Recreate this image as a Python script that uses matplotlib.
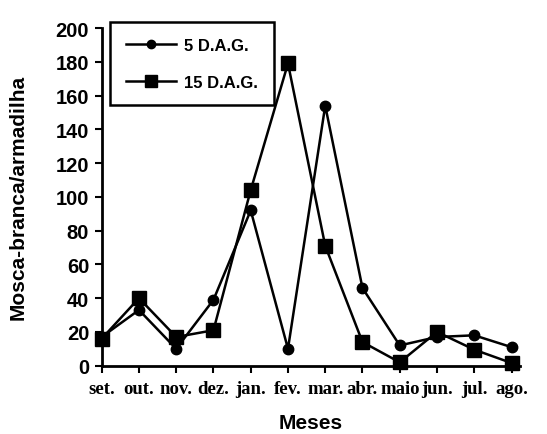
import matplotlib
matplotlib.use("Agg")
import matplotlib.pyplot as plt

meses = ["set.", "out.", "nov.", "dez.", "jan.", "fev.", "mar.", "abr.",
         "maio", "jun.", "jul.", "ago."]
dag5 = [17, 33, 10, 39, 92, 10, 154, 46, 12, 17, 18, 11]
dag15 = [16, 40, 17, 21, 104, 179, 71, 14, 2, 20, 9.5, 1.6]

fig = plt.figure(figsize=(5.47, 4.35), dpi=100)
ax = fig.add_axes([101.7 / 547, 68.3 / 435, 418 / 547, 337.7 / 435])

x = list(range(len(meses)))
ax.plot(x, dag5, "-o", color="black", lw=1.8, markersize=7.5,
        clip_on=False, zorder=3, label="5 D.A.G.")
ax.plot(x, dag15, "-s", color="black", lw=1.8, markersize=10.5,
        clip_on=False, zorder=3, label="15 D.A.G.")

ax.set_xlim(0, 11.22)
ax.set_ylim(0, 200)
ax.set_yticks(range(0, 201, 20))
ax.set_xticks(x)
ax.set_xticklabels(meses, family="Liberation Serif", fontweight="bold", fontsize=13.5)
for t in ax.get_yticklabels():
    t.set_family("Liberation Sans")
    t.set_fontweight("bold")
    t.set_fontsize(14.5)

for s in ["top", "right"]:
    ax.spines[s].set_visible(False)
for s in ["left", "bottom"]:
    ax.spines[s].set_linewidth(2)
ax.tick_params(direction="out", width=1.5, length=5)
ax.tick_params(axis="x", pad=5)
ax.tick_params(axis="y", pad=4)

ax.set_ylabel("Mosca-branca/armadilha", family="Liberation Sans", fontweight="bold",
              fontsize=15, labelpad=20)
ax.set_xlabel("Meses", family="Liberation Sans", fontweight="bold", fontsize=15, labelpad=12)

leg = ax.legend(loc="upper left", bbox_to_anchor=(110 / 547, 1 - 23 / 435),
                bbox_transform=fig.transFigure, borderaxespad=0, fancybox=False,
                edgecolor="black", framealpha=1, handlelength=3.0, borderpad=0.95,
                handletextpad=0.5, labelspacing=1.3,
                prop={"family": "Liberation Sans", "weight": "bold", "size": 12})
leg.get_frame().set_linewidth(1.8)
leg.legend_handles[0].set_markersize(6)
leg.legend_handles[1].set_markersize(9)

fig.savefig("out.png", dpi=100)
